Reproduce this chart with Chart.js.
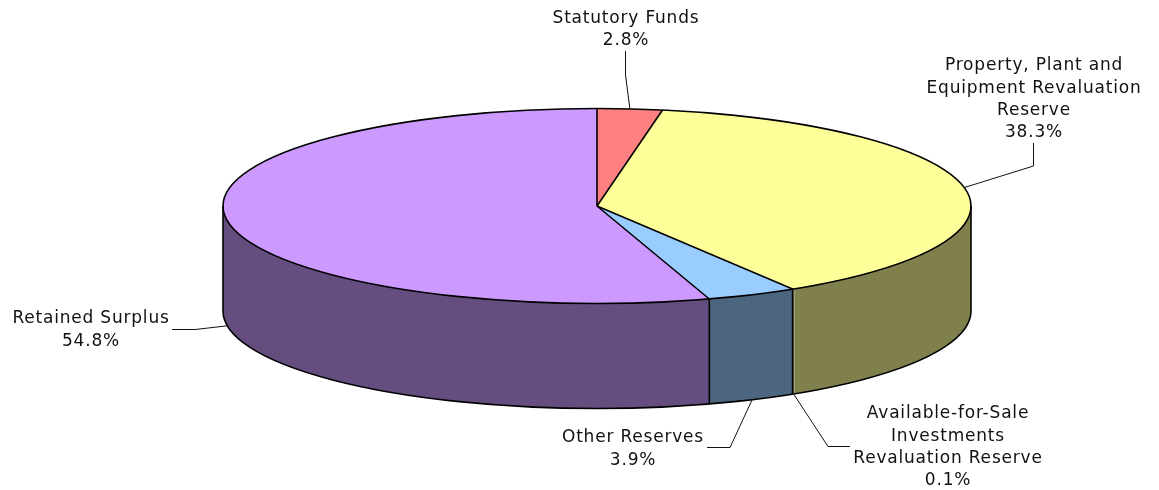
<!DOCTYPE html>
<html>
<head>
<meta charset="utf-8">
<style>html,body{margin:0;padding:0;background:#fff;overflow:hidden}canvas{display:block}</style>
<script src="https://cdn.jsdelivr.net/npm/chart.js@4"></script>
</head>
<body>
<canvas id="c" width="1159" height="490"></canvas>
<script>
const categories = ['Statutory Funds', 'Property, Plant and Equipment Revaluation Reserve', 'Available-for-Sale Investments Revaluation Reserve', 'Other Reserves', 'Retained Surplus'];
const shares = [2.8, 38.3, 0.1, 3.9, 54.8];
const topColours = ['#FF8080', '#FFFF99', '#FFFF99', '#99CCFF', '#CC99FF'];
const sideColours = ['#804040', '#80804D', '#80804D', '#4D6680', '#664D80'];
const labelLines = [
  ['Statutory Funds'],
  ['Property, Plant and', 'Equipment Revaluation', 'Reserve'],
  ['Available-for-Sale', 'Investments', 'Revaluation Reserve'],
  ['Other Reserves'],
  ['Retained Surplus']
];
// Label block: centre x, first line centre y, leader polyline (elbows, ending at the slice).
const labelLayout = [
  {x: 626, y: 18.5, leader: [[625.5, 51], [625.5, 75]]},
  {x: 1034, y: 66, leader: [[1033.5, 143], [1033.5, 166]]},
  {x: 948, y: 414, leader: [[850, 446.5], [828, 446.5]]},
  {x: 633, y: 438, leader: [[707, 447.5], [730, 447.5]]},
  {x: 91, y: 319, leader: [[172, 329.5], [195, 329.5]]}
];
const RY = 97.5, DEPTH = 105, LINE_H = 22.3, MIN_EDGE_SHARE = 0.5;

const pie3d = {
  id: 'pie3d',
  beforeDatasetsDraw(chart) {
    const ctx = chart.ctx, arcs = chart.getDatasetMeta(0).data;
    const {x: cx, y: cy, outerRadius: r} = arcs[0];
    ctx.save();
    arcs.forEach((a, i) => {
      const s = Math.max(a.startAngle, 0), e = Math.min(a.endAngle, Math.PI);
      if (e <= s) return;
      ctx.beginPath();
      ctx.ellipse(cx, cy, r, RY, 0, s, e);
      ctx.ellipse(cx, cy + DEPTH, r, RY, 0, e, s, true);
      ctx.closePath();
      ctx.fillStyle = sideColours[i];
      ctx.fill();
    });
    ctx.restore();
    ctx.save();
    ctx.translate(cx, cy); ctx.scale(1, RY / r); ctx.translate(-cx, -cy);
  },
  afterDatasetsDraw(chart) {
    const ctx = chart.ctx, arcs = chart.getDatasetMeta(0).data;
    ctx.restore();
    const {x: cx, y: cy, outerRadius: r} = arcs[0];
    ctx.save();
    ctx.lineWidth = 1.6; ctx.strokeStyle = '#000'; ctx.lineJoin = 'round';
    // outer shape: rim, front bottom edge and the two silhouette edges
    ctx.beginPath();
    ctx.ellipse(cx, cy, r, RY, 0, 0, Math.PI * 2);
    ctx.stroke();
    ctx.beginPath();
    ctx.moveTo(cx + r, cy);
    ctx.lineTo(cx + r, cy + DEPTH);
    ctx.ellipse(cx, cy + DEPTH, r, RY, 0, 0, Math.PI);
    ctx.lineTo(cx - r, cy);
    ctx.stroke();
    // slice edges, top radial and wall vertical
    arcs.forEach((a, i) => {
      if (shares[i] < MIN_EDGE_SHARE) return;
      const ex = cx + r * Math.cos(a.startAngle), ey = cy + RY * Math.sin(a.startAngle);
      ctx.beginPath();
      ctx.moveTo(cx, cy);
      ctx.lineTo(ex, ey);
      if (Math.sin(a.startAngle) > 0) ctx.lineTo(ex, ey + DEPTH);
      ctx.stroke();
    });
    ctx.lineWidth = 1; ctx.strokeStyle = '#111';
    ctx.font = '17px "DejaVu Sans"'; ctx.letterSpacing = '0.8px'; ctx.fillStyle = '#111';
    ctx.textAlign = 'center'; ctx.textBaseline = 'middle';
    arcs.forEach((a, i) => {
      const mid = (a.startAngle + a.endAngle) / 2, L = labelLayout[i];
      const ax = cx + r * Math.cos(mid);
      const ay = cy + RY * Math.sin(mid) + (Math.sin(mid) > 0 ? DEPTH : 0);
      ctx.beginPath();
      L.leader.forEach((p, k) => k ? ctx.lineTo(p[0], p[1]) : ctx.moveTo(p[0], p[1]));
      ctx.lineTo(ax, ay);
      ctx.stroke();
      const lines = labelLines[i].concat(shares[i].toFixed(1) + '%');
      lines.forEach((t, k) => ctx.fillText(t, L.x, L.y + k * LINE_H));
    });
    ctx.restore();
  }
};

new Chart(document.getElementById('c'), {
  type: 'pie',
  data: {
    labels: categories,
    datasets: [{data: shares, backgroundColor: topColours, borderWidth: 0, clip: false}]
  },
  options: {
    responsive: false,
    animation: false,
    radius: 374,
    layout: {padding: {left: 35, bottom: 78}},
    plugins: {legend: {display: false}, tooltip: {enabled: false}}
  },
  plugins: [pie3d]
});
</script>
</body>
</html>
